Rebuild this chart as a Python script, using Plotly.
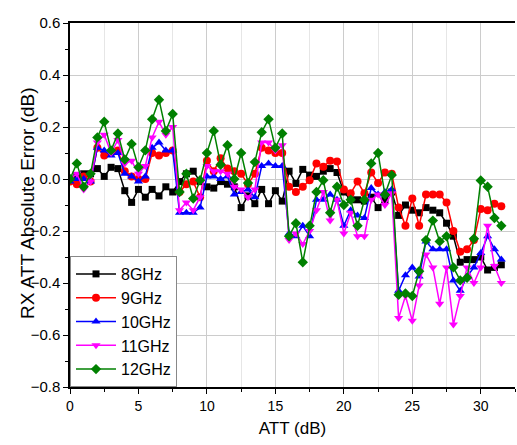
import plotly.graph_objects as go

att = [i * 0.5 for i in range(64)]

s8 = [0.0, 0.01, 0.02, 0.02, 0.04, 0.01, 0.045, 0.04, -0.045, -0.09, -0.04, -0.07, -0.04, -0.065, -0.03, -0.05,
      -0.01, 0.02, 0.03, -0.01, -0.03, -0.035, -0.01, -0.02, -0.03, -0.11, -0.065, -0.095, -0.04, -0.095, -0.045, -0.085,
      0.03, -0.017, 0.037, 0.015, 0.01, 0.03, 0.04, 0.025, -0.05, -0.08, -0.08, -0.085, -0.07, -0.11, -0.08, -0.05,
      -0.14, -0.1, -0.12, -0.13, -0.11, -0.12, -0.13, -0.17, -0.22, -0.32, -0.31, -0.31, -0.3, -0.35, -0.34, -0.33]
s9 = [-0.01, -0.02, 0.01, -0.01, 0.12, 0.09, 0.1, 0.11, 0.03, 0.01, 0.0, 0.0, 0.1, 0.09, 0.1, 0.11,
      -0.05, -0.02, -0.01, -0.07, 0.07, 0.03, 0.08, 0.04, 0.03, 0.02, -0.02, 0.02, 0.12, 0.11, 0.1, 0.1,
      -0.03, -0.05, -0.03, -0.005, 0.06, 0.047, 0.07, 0.067, -0.04, -0.055, -0.01, -0.055, 0.025, -0.015, 0.025, 0.02,
      -0.11, -0.18, -0.075, -0.18, -0.06, -0.06, -0.06, -0.09, -0.2, -0.28, -0.27, -0.235, -0.115, -0.12, -0.095, -0.105]
s10 = [-0.01, 0.0, 0.0, -0.01, 0.12, 0.11, 0.09, 0.1, 0.02, 0.01, -0.01, 0.01, 0.12, 0.14, 0.11, 0.11,
       -0.13, -0.13, -0.13, -0.11, 0.01, 0.01, 0.0, 0.01, -0.06, -0.05, -0.04, -0.07, 0.05, 0.06, 0.05, 0.05,
       -0.21, -0.22, -0.18, -0.22, -0.08, -0.08, -0.06, -0.08, -0.18, -0.12, -0.14, -0.15, -0.035, -0.06, -0.05, -0.04,
       -0.43, -0.37, -0.34, -0.375, -0.24, -0.27, -0.27, -0.27, -0.39, -0.43, -0.375, -0.34, -0.285, -0.22, -0.27, -0.31]
s11 = [0.0, 0.02, -0.04, -0.01, 0.14, 0.17, 0.1, 0.15, 0.06, 0.07, 0.02, 0.05, 0.16, 0.22, 0.17, 0.2,
       -0.12, -0.09, -0.12, -0.07, 0.05, 0.03, 0.03, 0.02, -0.03, -0.04, -0.07, -0.04, 0.14, 0.14, 0.11, 0.13,
       -0.235, -0.21, -0.25, -0.2, -0.12, -0.05, -0.16, -0.08, -0.21, -0.13, -0.22, -0.22, -0.08, -0.06, -0.1, -0.055,
       -0.535, -0.45, -0.545, -0.41, -0.29, -0.34, -0.48, -0.34, -0.56, -0.45, -0.34, -0.4, -0.34, -0.18, -0.335, -0.4]
s12 = [0.0, 0.06, -0.03, 0.02, 0.16, 0.22, 0.11, 0.175, 0.075, 0.135, 0.045, 0.11, 0.23, 0.305, 0.185, 0.25,
       -0.05, 0.02, -0.075, -0.005, 0.1, 0.185, 0.055, 0.13, 0.0, 0.1, -0.015, 0.065, 0.18, 0.23, 0.12, 0.175,
       -0.22, -0.17, -0.32, -0.18, -0.05, -0.005, -0.13, -0.03, -0.1, -0.08, -0.18, -0.08, 0.06, 0.1, -0.06, 0.015,
       -0.445, -0.44, -0.45, -0.355, -0.235, -0.16, -0.24, -0.22, -0.34, -0.39, -0.38, -0.23, -0.006, -0.03, -0.15, -0.18]

names = ["8GHz", "9GHz", "10GHz", "11GHz", "12GHz"]
series = [s8, s9, s10, s11, s12]
colors = ["#000000", "#ff0000", "#0000ff", "#ff00ff", "#008000"]
symbols = ["square", "circle", "triangle-up", "triangle-down", "diamond"]
msizes = [7, 8, 8, 8, 8]

fig = go.Figure()
for n, s, c, sym, ms in zip(names, series, colors, symbols, msizes):
    fig.add_trace(go.Scatter(
        x=att, y=s, name=n, mode="lines+markers",
        line=dict(color=c, width=1.5),
        marker=dict(symbol=sym, size=ms, color=c, line=dict(width=0)),
    ))

font = "Liberation Sans, Arial, sans-serif"
fig.update_layout(
    width=517, height=445,
    margin=dict(l=70, r=2, t=23, b=58),
    paper_bgcolor="white", plot_bgcolor="white",
    font=dict(family=font, size=14, color="#000000"),
    showlegend=True,
    legend=dict(
        x=0, y=0, xanchor="left", yanchor="bottom",
        bgcolor="white", bordercolor="#888888", borderwidth=1,
        font=dict(size=16, family=font), tracegroupgap=0, itemwidth=40,
    ),
    xaxis=dict(
        range=[0, 32.5], tickmode="linear", tick0=0, dtick=5,
        showgrid=True, gridcolor="#cccccc", gridwidth=1,
        showline=True, linecolor="#000000", linewidth=1.5, mirror=True,
        ticks="outside", ticklen=5, tickwidth=1, tickcolor="#000000",
        minor=dict(dtick=2.5, tick0=0, ticks="outside", ticklen=3, tickcolor="#000000",
                   showgrid=True, gridcolor="#e6e6e6", gridwidth=1),
        zeroline=False,
        title=dict(text="ATT (dB)", font=dict(size=17, family=font), standoff=10),
        tickfont=dict(size=14),
    ),
    yaxis=dict(
        range=[-0.8, 0.6], tickmode="linear", tick0=-0.8, dtick=0.2, tickformat=".1f",
        showgrid=True, gridcolor="#cccccc", gridwidth=1,
        showline=True, linecolor="#000000", linewidth=1.5, mirror=False,
        ticks="outside", ticklen=5, tickwidth=1, tickcolor="#000000",
        minor=dict(dtick=0.1, tick0=-0.8, ticks="outside", ticklen=3, tickcolor="#000000", showgrid=False),
        zeroline=False,
        tickfont=dict(size=15),
    ),
    annotations=[dict(
        text="RX ATT Absolute Error (dB)", textangle=-90,
        xref="paper", yref="paper", x=-0.097, y=0.505,
        xanchor="center", yanchor="middle", showarrow=False,
        font=dict(size=19, family=font, color="#000000"),
    )],
)

fig.write_html("out.html")
